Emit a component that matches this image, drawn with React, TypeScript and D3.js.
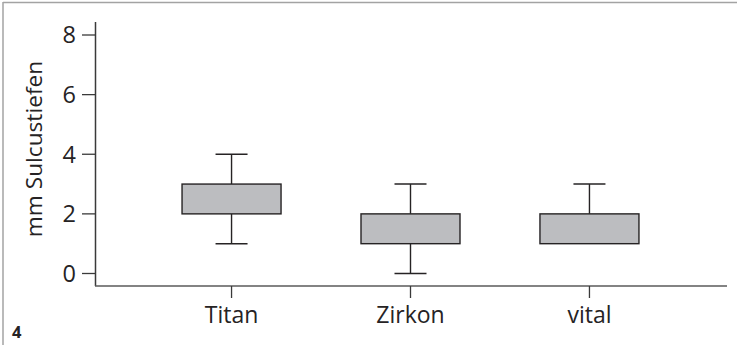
import React from 'react';
import * as d3 from 'd3';

// box plot values (mm)
const categories = ['Titan', 'Zirkon', 'vital'];
const mins = [1, 0, 1];
const q1s = [2, 1, 1];
const q3s = [3, 2, 2];
const maxs = [4, 3, 3];
const yTicks = [0, 2, 4, 6, 8];

const W = 737;
const H = 345;
const FONT = '"Open Sans", "Noto Sans", sans-serif';

export default function App() {
  const x = d3.scalePoint<string>().domain(categories).range([95, 726]).padding(0.763);
  const y = d3.scaleLinear().domain([0, 8]).range([273.5, 35]);
  const axisY = 286;
  const boxW = 99;
  const capW = 32;
  const ink = '#262324';

  return (
    <svg width={W} height={H} style={{ position: 'absolute', left: 0, top: 0, background: '#fff' }}>
      {/* frame */}
      <line x1={3} x2={W} y1={2.5} y2={2.5} stroke="#a3a3a3" strokeWidth={1.5} />
      <line x1={3} x2={3} y1={2} y2={H} stroke="#a3a3a3" strokeWidth={1.5} />

      {/* y axis */}
      <line x1={95.5} x2={95.5} y1={22} y2={axisY} stroke="#3a3a3a" strokeWidth={1.5} />
      {yTicks.map((t) => (
        <g key={t}>
          <line x1={82} x2={95.5} y1={y(t)} y2={y(t)} stroke="#3a3a3a" strokeWidth={1.3} />
          <text x={76} y={y(t)} dy="0.36em" textAnchor="end" fontFamily={FONT} fontSize={23.5} fill={ink}>
            {t}
          </text>
        </g>
      ))}
      <text
        transform={`translate(36,${149}) rotate(-90)`}
        textAnchor="middle"
        dominantBaseline="middle"
        fontFamily={FONT}
        fontSize={22.7}
        fill={ink}
      >
        mm Sulcustiefen
      </text>

      {/* x axis */}
      <line x1={95} x2={727} y1={axisY} y2={axisY} stroke="#5a5a5a" strokeWidth={1.5} />
      {categories.map((c) => (
        <g key={c}>
          <line x1={x(c)!} x2={x(c)!} y1={axisY} y2={298} stroke="#3a3a3a" strokeWidth={1.3} />
          <text x={x(c)!} y={323} textAnchor="middle" fontFamily={FONT} fontSize={23} fill={ink}>
            {c}
          </text>
        </g>
      ))}

      {/* boxes */}
      {categories.map((c, i) => {
        const cx = x(c)!;
        return (
          <g key={c} stroke={ink} strokeWidth={1.4}>
            {maxs[i] > q3s[i] && (
              <>
                <line x1={cx} x2={cx} y1={y(maxs[i])} y2={y(q3s[i])} />
                <line x1={cx - capW / 2} x2={cx + capW / 2} y1={y(maxs[i])} y2={y(maxs[i])} />
              </>
            )}
            {mins[i] < q1s[i] && (
              <>
                <line x1={cx} x2={cx} y1={y(q1s[i])} y2={y(mins[i])} />
                <line x1={cx - capW / 2} x2={cx + capW / 2} y1={y(mins[i])} y2={y(mins[i])} />
              </>
            )}
            <rect
              x={cx - boxW / 2}
              y={y(q3s[i])}
              width={boxW}
              height={y(q1s[i]) - y(q3s[i])}
              fill="#bcbdc0"
            />
          </g>
        );
      })}

      <text x={12} y={338} fontFamily={FONT} fontSize={16.5} fontWeight="bold" fill={ink}>
        4
      </text>
    </svg>
  );
}
